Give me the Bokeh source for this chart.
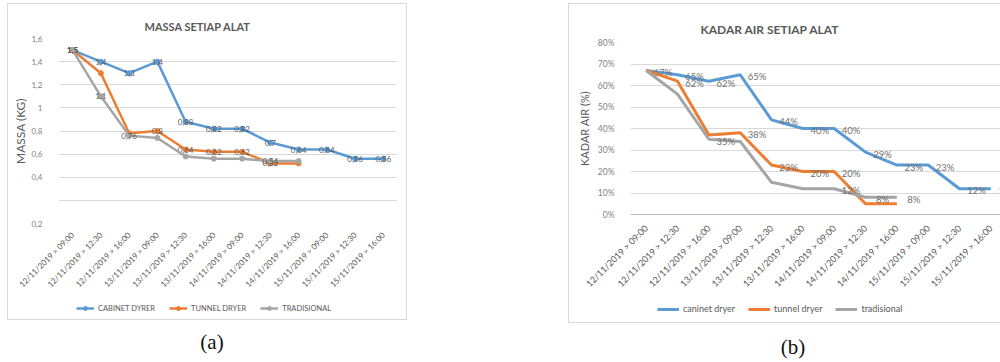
import math
from bokeh.plotting import figure
from bokeh.models import (FactorRange, Range1d, FixedTicker, Legend, LegendItem,
                          Div, ColumnDataSource, PrintfTickFormatter)
from bokeh.layouts import row, column
from bokeh.core.properties import value
from bokeh.embed import file_html
from bokeh.resources import INLINE

# ---------------- data ----------------
categories = ["12/11/2019 > 09:00", "12/11/2019 > 12:30", "12/11/2019 > 16:00",
              "13/11/2019 > 09:00", "13/11/2019 > 12:30", "13/11/2019 > 16:00",
              "14/11/2019 > 09:00", "14/11/2019 > 12:30", "14/11/2019 > 16:00",
              "15/11/2019 > 09:00", "15/11/2019 > 12:30", "15/11/2019 > 16:00"]

# (a) mass (kg)
mass_cabinet = [1.5, 1.4, 1.3, 1.4, 0.88, 0.82, 0.82, 0.7, 0.64, 0.64, 0.56, 0.56]
mass_tunnel = [1.5, 1.3, 0.78, 0.8, 0.64, 0.62, 0.62, 0.52, 0.52]
mass_trad = [1.5, 1.1, 0.76, 0.74, 0.58, 0.56, 0.56, 0.54, 0.54]
mass_label_idx_cabinet = list(range(12))
mass_label_idx_tunnel = [0, 3, 4, 5, 6, 7]
mass_label_idx_trad = [0, 1, 2, 7]
mass_yticks = [0, 0.2, 0.4, 0.6, 0.8, 1.0, 1.2, 1.4, 1.6]
mass_ytick_labels = ["0,2", "", "0,4", "0,6", "0,8", "1", "1,2", "1,4", "1,6"]
mass_legend = ["CABINET DYRER", "TUNNEL DRYER", "TRADISIONAL"]

# (b) water content (%)
water_cabinet = [67, 65, 62, 65, 44, 40, 40, 29, 23, 23, 12, 12]
water_tunnel = [67, 62, 37, 38, 23, 20, 20, 5, 5]
water_trad = [67, 56, 35, 34, 15, 12, 12, 8, 8]
water_label_idx_cabinet = list(range(12))
water_label_idx_tunnel = [1, 3, 4, 5, 6]
water_label_idx_trad = [2, 6, 7, 8]
water_yticks = [0, 10, 20, 30, 40, 50, 60, 70, 80]
water_legend = ["caninet dryer", "tunnel dryer", "tradisional"]

BLUE, ORANGE, GRAY = "#5B9BD5", "#ED7D31", "#A5A5A5"
TXT = "#595959"
FONT = "Lato"
BOX = {"border": "1px solid #d9d9d9", "background-color": "white"}


def legend_figure(width, height, y_lo):
    # strip that only holds the legend; the series are drawn there outside its visible range
    f = figure(width=width, height=height, output_backend="svg", toolbar_location=None,
               x_axis_type=None, y_axis_type=None, outline_line_color=None,
               min_border=0, border_fill_color="white",
               x_range=FactorRange(*categories), y_range=Range1d(y_lo, y_lo + 1))
    f.xgrid.visible = False
    f.ygrid.visible = False
    return f


# ---------------- chart (a) ----------------
p1 = figure(width=398, height=291, x_range=FactorRange(*categories), y_range=Range1d(0, 1.6),
            output_backend="svg", toolbar_location=None,
            min_border_left=50, min_border_right=9, min_border_top=34, min_border_bottom=72,
            outline_line_color=None, background_fill_color="white", border_fill_color="white")
p1.title.text = "MASSA SETIAP ALAT"
p1.title.align = "left"
p1.title.offset = 86
p1.title.vertical_align = "middle"
p1.title.text_font = FONT
p1.title.text_font_size = "11px"
p1.title.text_color = TXT
p1.title.text_font_style = "bold"

p1.xgrid.grid_line_color = None
p1.ygrid.grid_line_color = "#d9d9d9"
p1.yaxis.ticker = FixedTicker(ticks=mass_yticks)
p1.yaxis.major_label_overrides = dict(zip(mass_yticks, mass_ytick_labels))
p1.yaxis.axis_line_color = None
p1.yaxis.major_tick_line_color = None
p1.yaxis.minor_tick_line_color = None
p1.yaxis.major_label_text_font = FONT
p1.yaxis.major_label_text_font_size = "8px"
p1.yaxis.major_label_text_color = "#7f7f7f"
p1.yaxis.major_label_standoff = 10
p1.yaxis.axis_label = "MASSA (KG)"
p1.yaxis.axis_label_text_font = FONT
p1.yaxis.axis_label_text_font_size = "12px"
p1.yaxis.axis_label_text_font_style = "normal"
p1.yaxis.axis_label_text_color = TXT
p1.yaxis.axis_label_standoff = 0

p1.xaxis.axis_line_color = None
p1.xaxis.major_tick_line_color = None
p1.xaxis.major_label_orientation = math.pi / 4
p1.xaxis.major_label_text_font = FONT
p1.xaxis.major_label_text_font_size = "8px"
p1.xaxis.major_label_text_color = TXT
p1.xaxis.major_label_standoff = 4

lf1 = legend_figure(398, 24, 10)
items1 = []
for name, vals, col, idx in [(mass_legend[0], mass_cabinet, BLUE, mass_label_idx_cabinet),
                             (mass_legend[1], mass_tunnel, ORANGE, mass_label_idx_tunnel),
                             (mass_legend[2], mass_trad, GRAY, mass_label_idx_trad)]:
    xs = categories[:len(vals)]
    p1.line(xs, vals, line_color=col, line_width=2.5)
    p1.scatter(xs, vals, size=5, fill_color=col, line_color=col)
    src = ColumnDataSource(dict(x=[categories[i] for i in idx], y=[vals[i] for i in idx],
                                t=[f"{vals[i]:g}".replace(".", ",") for i in idx]))
    p1.text(x="x", y="y", text="t", source=src, text_font=value(FONT), text_font_size="8px",
            text_color=TXT, text_align="center", text_baseline="middle")
    lp = lf1.line(xs, vals, line_color=col, line_width=2.5)
    sp = lf1.scatter(xs, vals, size=5, fill_color=col, line_color=col)
    items1.append(LegendItem(label=name, renderers=[lp, sp]))

leg1 = Legend(items=items1, orientation="horizontal", location=(18, 6),
              label_text_font=FONT, label_text_font_size="7.5px", label_text_color=TXT,
              border_line_color=None, background_fill_alpha=0, glyph_width=18, glyph_height=10,
              spacing=14, margin=0, padding=0, label_standoff=4)
lf1.add_layout(leg1)

# ---------------- chart (b) ----------------
p2 = figure(width=438, height=292, x_range=FactorRange(*categories), y_range=Range1d(0, 80),
            output_backend="svg", toolbar_location=None,
            min_border_left=61, min_border_right=1, min_border_top=38, min_border_bottom=82,
            outline_line_color=None, background_fill_color="white", border_fill_color="white")
p2.title.text = "KADAR AIR SETIAP ALAT"
p2.title.align = "left"
p2.title.offset = 70
p2.title.vertical_align = "middle"
p2.title.text_font = FONT
p2.title.text_font_size = "12px"
p2.title.text_color = TXT
p2.title.text_font_style = "bold"

p2.xgrid.grid_line_color = None
p2.ygrid.grid_line_color = "#d9d9d9"
p2.yaxis.ticker = FixedTicker(ticks=water_yticks)
p2.yaxis.formatter = PrintfTickFormatter(format="%d%%")
p2.yaxis.axis_line_color = None
p2.yaxis.major_tick_line_color = None
p2.yaxis.minor_tick_line_color = None
p2.yaxis.major_label_text_font = FONT
p2.yaxis.major_label_text_font_size = "8.5px"
p2.yaxis.major_label_text_color = "#7f7f7f"
p2.yaxis.major_label_standoff = 10
p2.yaxis.axis_label = "KADAR AIR (%)"
p2.yaxis.axis_label_text_font = FONT
p2.yaxis.axis_label_text_font_size = "11px"
p2.yaxis.axis_label_text_font_style = "normal"
p2.yaxis.axis_label_text_color = TXT
p2.yaxis.axis_label_standoff = 4

p2.xaxis.axis_line_color = "#bfbfbf"
p2.xaxis.major_tick_line_color = None
p2.xaxis.major_label_orientation = math.pi / 4
p2.xaxis.major_label_text_font = FONT
p2.xaxis.major_label_text_font_size = "9px"
p2.xaxis.major_label_text_color = TXT
p2.xaxis.major_label_standoff = 6

lf2 = legend_figure(438, 26, 1000)
items2 = []
for name, vals, col, idx in [(water_legend[0], water_cabinet, BLUE, water_label_idx_cabinet),
                             (water_legend[1], water_tunnel, ORANGE, water_label_idx_tunnel),
                             (water_legend[2], water_trad, GRAY, water_label_idx_trad)]:
    xs = categories[:len(vals)]
    p2.line(xs, vals, line_color=col, line_width=3)
    src = ColumnDataSource(dict(x=[categories[i] for i in idx], y=[vals[i] for i in idx],
                                t=[f"{vals[i]}%" for i in idx]))
    p2.text(x="x", y="y", text="t", source=src, text_font=value(FONT), text_font_size="9.5px",
            text_color="#707070", text_align="center", text_baseline="middle",
            x_offset=17, y_offset=2)
    lp = lf2.line(xs, vals, line_color=col, line_width=3)
    items2.append(LegendItem(label=name, renderers=[lp]))

leg2 = Legend(items=items2, orientation="horizontal", location=(27, 8),
              label_text_font=FONT, label_text_font_size="9px", label_text_color=TXT,
              border_line_color=None, background_fill_alpha=0, glyph_width=22, glyph_height=10,
              spacing=13, margin=0, padding=0, label_standoff=4)
lf2.add_layout(leg2)

# ---------------- captions & layout ----------------
cap_a = Div(text="(a)", width=400, height=36,
            styles={"font-family": "Liberation Serif", "font-size": "21px", "color": "#111",
                    "text-align": "center", "padding-top": "2px", "padding-left": "0px"})
cap_b = Div(text="(b)", width=440, height=34,
            styles={"font-family": "Liberation Serif", "font-size": "21px", "color": "#111",
                    "text-align": "center", "padding-top": "4px", "padding-left": "0px"})

box1 = column(p1, lf1, styles=BOX)
box2 = column(p2, lf2, styles=BOX)
left_col = column(box1, cap_a, margin=(3, 0, 0, 7))
right_col = column(box2, cap_b, margin=(3, 0, 0, 151))
layout = row(left_col, right_col)

open("out.html", "w").write(file_html(layout, INLINE))
